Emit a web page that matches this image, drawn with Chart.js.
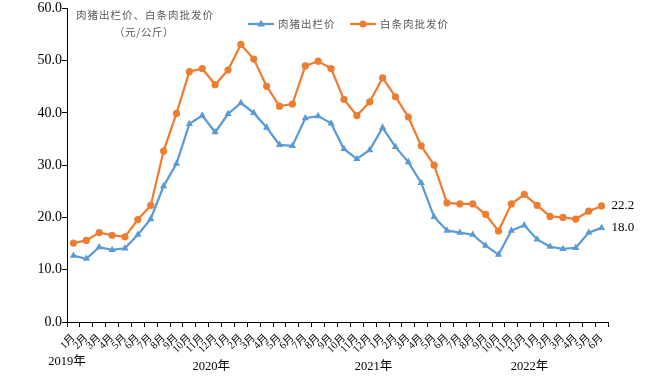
<!DOCTYPE html>
<html>
<head>
<meta charset="utf-8">
<script src="https://cdn.jsdelivr.net/npm/chart.js@4/dist/chart.umd.min.js"></script>
<style>
html,body{margin:0;padding:0;background:#fff;}
#wrap{width:652px;height:382px;position:relative;}
</style>
</head>
<body>
<div id="wrap"><canvas id="c" width="652" height="382"></canvas></div>
<script>
// ---- data ----
const months = [
  '1月','2月','3月','4月','5月','6月','7月','8月','9月','10月','11月','12月',
  '1月','2月','3月','4月','5月','6月','7月','8月','9月','10月','11月','12月',
  '1月','2月','3月','4月','5月','6月','7月','8月','9月','10月','11月','12月',
  '1月','2月','3月','4月','5月','6月'
];
const yearLabels = ['2019年','2020年','2021年','2022年'];
const hogPrice = [
  12.7, 12.1, 14.3, 13.8, 14.1, 16.7, 19.7, 26.0, 30.3, 37.9, 39.5, 36.3,
  39.8, 41.9, 40.0, 37.2, 33.9, 33.7, 39.0, 39.4, 38.0, 33.1, 31.2, 32.9,
  37.2, 33.5, 30.6, 26.6, 20.1, 17.5, 17.1, 16.7, 14.6, 12.9, 17.5, 18.5,
  15.8, 14.4, 14.0, 14.2, 17.1, 18.0
];
const porkPrice = [
  15.1, 15.6, 17.1, 16.6, 16.3, 19.6, 22.3, 32.7, 39.9, 47.9, 48.5, 45.4,
  48.2, 53.1, 50.3, 45.1, 41.3, 41.7, 49.0, 49.9, 48.5, 42.6, 39.5, 42.1,
  46.7, 43.1, 39.2, 33.7, 30.0, 22.8, 22.6, 22.6, 20.6, 17.4, 22.6, 24.4,
  22.3, 20.2, 20.0, 19.7, 21.2, 22.2
];
const seriesNames = ['肉猪出栏价','白条肉批发价'];
const titleLines = ['肉猪出栏价、白条肉批发价','（元/公斤）'];
const yTicks = [0,10,20,30,40,50,60];

const BLUE = '#5B9BD5', ORANGE = '#ED7D31';
const SERIF = "'Liberation Serif','Noto Sans CJK SC',serif";
const CJK = "'Noto Sans CJK SC','Liberation Serif',sans-serif";

function spacedText(ctx, text, x, y, spacing){
  let cx = x;
  for (const ch of text){
    ctx.fillText(ch, cx, y);
    cx += ctx.measureText(ch).width + spacing;
  }
}
function drawMarker(ctx, style, x, y, color){
  ctx.save();
  ctx.fillStyle = color; ctx.strokeStyle = color;
  ctx.beginPath();
  if (style === 'triangle'){
    const r = 4.2;
    ctx.moveTo(x, y - r);
    ctx.lineTo(x + r*0.95, y + r*0.6);
    ctx.lineTo(x - r*0.95, y + r*0.6);
    ctx.closePath();
  } else {
    ctx.arc(x, y, 3.6, 0, Math.PI*2);
  }
  ctx.fill();
  ctx.restore();
}

const overlay = {
  id: 'overlay',
  afterDraw(chart){
    const ctx = chart.ctx;
    const xs = chart.scales.x, ys = chart.scales.y;
    ctx.save();
    // title
    ctx.fillStyle = '#595959';
    ctx.font = '10.5px ' + CJK;
    ctx.textBaseline = 'middle';
    ctx.textAlign = 'left';
    spacedText(ctx, titleLines[0], 76, 15, 1.0);
    spacedText(ctx, titleLines[1], 114, 32, 0.6);
    // legend
    const leg = [
      {name: seriesNames[0], color: BLUE, style: 'triangle', x0: 248},
      {name: seriesNames[1], color: ORANGE, style: 'circle', x0: 350}
    ];
    const ly = 24;
    leg.forEach(l => {
      ctx.strokeStyle = l.color; ctx.lineWidth = 2.25;
      ctx.beginPath(); ctx.moveTo(l.x0, ly); ctx.lineTo(l.x0 + 26, ly); ctx.stroke();
      drawMarker(ctx, l.style, l.x0 + 13, ly, l.color);
      ctx.fillStyle = '#595959';
      ctx.font = '10.5px ' + CJK;
      spacedText(ctx, l.name, l.x0 + 30, ly, 1.0);
    });
    // end labels
    ctx.fillStyle = '#000';
    ctx.font = '13px ' + SERIF;
    [porkPrice, hogPrice].forEach(arr => {
      const i = arr.length - 1;
      const px = xs.getPixelForValue(i), py = ys.getPixelForValue(arr[i]);
      ctx.fillText(arr[i].toFixed(1), px + 10, py);
    });
    // year labels
    ctx.font = '12.5px ' + SERIF;
    ctx.textAlign = 'center';
    const w = (xs.right - xs.left) / months.length;
    const yearIdx = [-0.5, 10.7, 23.3, 35.4];
    const yearY = [362, 367, 367, 367];
    yearLabels.forEach((t, k) => {
      ctx.fillText(t, xs.left + (yearIdx[k] + 0.5) * w, yearY[k]);
    });
    ctx.restore();
  }
};

new Chart(document.getElementById('c'), {
  type: 'line',
  data: {
    labels: months,
    datasets: [
      {
        label: seriesNames[0], data: hogPrice,
        borderColor: BLUE, backgroundColor: BLUE, borderWidth: 2.25,
        pointStyle: 'triangle', pointRadius: 4.2, pointBorderWidth: 0,
        tension: 0
      },
      {
        label: seriesNames[1], data: porkPrice,
        borderColor: ORANGE, backgroundColor: ORANGE, borderWidth: 2.25,
        pointStyle: 'circle', pointRadius: 3.6, pointBorderWidth: 0,
        tension: 0
      }
    ]
  },
  options: {
    responsive: false,
    animation: false,
    events: [],
    layout: { padding: { left: 0, right: 44, top: 8, bottom: 0 } },
    plugins: { legend: { display: false }, tooltip: { enabled: false }, title: { display: false } },
    scales: {
      x: {
        type: 'category',
        offset: true,
        grid: { offset: true, drawOnChartArea: false, drawTicks: true, tickLength: 5, color: '#000' },
        border: { display: true, color: '#000', width: 1 },
        ticks: {
          autoSkip: false, maxRotation: 45, minRotation: 45, padding: 5,
          color: '#000', font: { family: SERIF, size: 10.5 }
        },
        afterFit(s){ s.height = 60; }
      },
      y: {
        min: 0, max: 60,
        afterBuildTicks(s){ s.ticks = yTicks.map(v => ({value: v})); },
        grid: { drawOnChartArea: false, drawTicks: true, tickLength: 5, color: '#000' },
        border: { display: true, color: '#000', width: 1 },
        ticks: {
          padding: 0, color: '#000', font: { family: SERIF, size: 14 },
          callback: v => Number(v).toFixed(1)
        },
        afterFit(s){ s.width = 67; }
      }
    }
  },
  plugins: [overlay]
});
</script>
</body>
</html>
